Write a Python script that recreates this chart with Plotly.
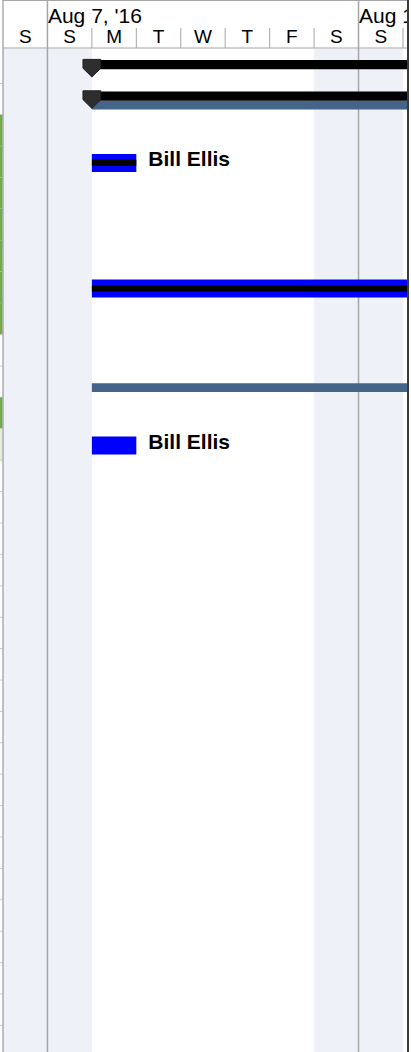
import pandas as pd
import plotly.graph_objects as go

# ---------------- data ----------------
timescale_start = "2016-08-06"
timescale_days = 9
week_starts = ["2016-08-07", "2016-08-14"]

summary_rows = [0, 1]
summary_starts = ["2016-08-08", "2016-08-08"]
summary_ends = ["2016-09-02", "2016-09-02"]

baseline_rows = [1, 10]
baseline_starts = ["2016-08-08", "2016-08-08"]
baseline_ends = ["2016-09-02", "2016-09-02"]

task_rows = [3, 7, 12]
task_starts = ["2016-08-08", "2016-08-08", "2016-08-08"]
task_ends = ["2016-08-09", "2016-09-02", "2016-08-09"]
task_complete = [1.0, 1.0, 0.0]
task_resources = ["Bill Ellis", "", "Bill Ellis"]

table_green_rows = [2, 3, 4, 5, 6, 7, 8, 11]
table_light_rows = [12]
table_row_count = 32

# ---------------- layout constants ----------------
W, H = 411, 1052
DAY_PX = 44.44
LEFT_PX = 3.0
PANE_RIGHT = 407.0
BODY_TOP = 52.0
ROW_PX = 31.4
HEADER_BOTTOM = 48.0

FONT = "Liberation Sans, Arial, sans-serif"
BLUE = "#0000FF"
SLATE = "#45648A"
SHADE = "#EEF1F7"
GRID = "#A6A6A6"


def y_of_px(px):
    return (px - BODY_TOP) / ROW_PX - 0.5


def rows_of_px(px):
    return px / ROW_PX


def fmt(ts):
    return pd.Timestamp(ts).strftime("%Y-%m-%d %H:%M:%S.%f")


t_start = pd.Timestamp(timescale_start)
t0 = t_start - pd.Timedelta(days=LEFT_PX / DAY_PX)
t1 = t0 + pd.Timedelta(days=PANE_RIGHT / DAY_PX)
days = [t_start + pd.Timedelta(days=i) for i in range(timescale_days)]

fig = go.Figure()
shapes = []

# weekend shading (body)
for d in days:
    if d.weekday() >= 5:
        shapes.append(dict(type="rect", xref="x", yref="y", x0=fmt(d), x1=fmt(d + pd.Timedelta(days=1)),
                           y0=y_of_px(HEADER_BOTTOM + 0.5), y1=y_of_px(H), fillcolor=SHADE,
                           line=dict(width=0), layer="below"))

# week lines (full height)
for w in week_starts:
    shapes.append(dict(type="line", xref="x", yref="y", x0=fmt(w), x1=fmt(w),
                       y0=y_of_px(0), y1=y_of_px(H), line=dict(color=GRID, width=1.5), layer="below"))

# day separators in lower header tier
for d in days[1:] + [days[-1] + pd.Timedelta(days=1)]:
    if d.strftime("%Y-%m-%d") in week_starts:
        continue
    shapes.append(dict(type="line", xref="x", yref="y", x0=fmt(d), x1=fmt(d),
                       y0=y_of_px(28), y1=y_of_px(HEADER_BOTTOM), line=dict(color=GRID, width=1)))

# header borders
shapes.append(dict(type="line", xref="paper", yref="y", x0=LEFT_PX / W, x1=PANE_RIGHT / W,
                   y0=y_of_px(HEADER_BOTTOM), y1=y_of_px(HEADER_BOTTOM), line=dict(color=GRID, width=1)))
shapes.append(dict(type="line", xref="paper", yref="y", x0=LEFT_PX / W, x1=PANE_RIGHT / W,
                   y0=y_of_px(0.5), y1=y_of_px(0.5), line=dict(color=GRID, width=1)))

# left table strip
for r in range(table_row_count):
    if r in table_green_rows or r in table_light_rows:
        col = "#70AD47" if r in table_green_rows else "#E2EFDA"
        shapes.append(dict(type="rect", xref="paper", yref="y", x0=0, x1=2.6 / W,
                           y0=r - 0.5, y1=r + 0.5, fillcolor=col, line=dict(width=0)))
    shapes.append(dict(type="line", xref="paper", yref="y", x0=0, x1=2.6 / W,
                       y0=r + 0.5, y1=r + 0.5, line=dict(color="#C8C8C8", width=1)))
shapes.append(dict(type="line", xref="paper", yref="y", x0=LEFT_PX / W, x1=LEFT_PX / W,
                   y0=y_of_px(0), y1=y_of_px(H), line=dict(color="#A0A0A0", width=1.3)))
# right splitter
shapes.append(dict(type="line", xref="paper", yref="y", x0=(PANE_RIGHT + 1) / W, x1=(PANE_RIGHT + 1) / W,
                   y0=y_of_px(0), y1=y_of_px(H), line=dict(color="#3A3A3A", width=2)))


def ms(a, b):
    return (pd.Timestamp(b) - pd.Timestamp(a)) / pd.Timedelta(milliseconds=1)


def hbar(rows, starts, ends, color, top_px, h_px):
    fig.add_trace(go.Bar(orientation="h", y=rows, base=[fmt(s) for s in starts],
                         x=[ms(s, e) for s, e in zip(starts, ends)],
                         offset=rows_of_px(top_px), width=rows_of_px(h_px),
                         marker=dict(color=color, line=dict(width=0)),
                         hoverinfo="skip", showlegend=False))


# baseline bars
hbar(baseline_rows, baseline_starts, baseline_ends, SLATE, 1.6, 8.7)
# summary bars
hbar(summary_rows, summary_starts, summary_ends, "#000000", -7.7, 9.3)
# task bars
hbar(task_rows, task_starts, task_ends, BLUE, -7.9, 18)
prog_rows, prog_s, prog_e = [], [], []
for r, s, e, c in zip(task_rows, task_starts, task_ends, task_complete):
    if c > 0:
        prog_rows.append(r)
        prog_s.append(s)
        prog_e.append(pd.Timestamp(s) + (pd.Timestamp(e) - pd.Timestamp(s)) * c)
hbar(prog_rows, prog_s, prog_e, "#000000", -2.1, 6)

# summary start markers
half = pd.Timedelta(days=8.9 / DAY_PX)
for r, s in zip(summary_rows, summary_starts):
    s = pd.Timestamp(s)
    xs = [s - half, s + half, s + half, s, s - half, s - half]
    ys = [r + rows_of_px(-8.3), r + rows_of_px(-8.3), r + rows_of_px(0.5), r + rows_of_px(9.3),
          r + rows_of_px(0.5), r + rows_of_px(-8.3)]
    fig.add_trace(go.Scatter(x=[fmt(v) for v in xs], y=ys, mode="lines", fill="toself",
                             fillcolor="#2E2E2E", line=dict(color="#1E1E1E", width=1),
                             hoverinfo="skip", showlegend=False))

# resource labels
lab_x, lab_y, lab_t = [], [], []
for r, e, res in zip(task_rows, task_ends, task_resources):
    if res:
        lab_x.append(fmt(pd.Timestamp(e) + pd.Timedelta(days=12 / DAY_PX)))
        lab_y.append(r + rows_of_px(-1.2))
        lab_t.append(res)
fig.add_trace(go.Scatter(x=lab_x, y=lab_y, text=lab_t, mode="text", textposition="middle right",
                         textfont=dict(family=FONT, size=21, color="#000000", weight="bold"),
                         hoverinfo="skip", showlegend=False))

# header: week labels and day letters
wk = [pd.Timestamp(w) for w in week_starts]
fig.add_trace(go.Scatter(x=[fmt(w + pd.Timedelta(days=0.5 / DAY_PX)) for w in wk],
                         y=[y_of_px(18)] * len(wk),
                         text=[f"{w.strftime('%b')} {w.day}, '{w.strftime('%y')}" for w in wk],
                         mode="text", textposition="middle right", cliponaxis=True,
                         textfont=dict(family=FONT, size=21, color="#000000"),
                         hoverinfo="skip", showlegend=False))
letters = ["M", "T", "W", "T", "F", "S", "S"]
fig.add_trace(go.Scatter(x=[fmt(d + pd.Timedelta(hours=12)) for d in days],
                         y=[y_of_px(38)] * len(days),
                         text=[letters[d.weekday()] for d in days],
                         mode="text", textposition="middle center", cliponaxis=True,
                         textfont=dict(family=FONT, size=19, color="#000000"),
                         hoverinfo="skip", showlegend=False))

fig.update_layout(
    width=W, height=H, margin=dict(l=0, r=0, t=0, b=0),
    paper_bgcolor="white", plot_bgcolor="white",
    barmode="overlay", showlegend=False, shapes=shapes,
    xaxis=dict(type="date", range=[fmt(t0), fmt(t1)], domain=[0, PANE_RIGHT / W],
               visible=False, showgrid=False, zeroline=False, fixedrange=True),
    yaxis=dict(range=[y_of_px(H), y_of_px(0)], visible=False, showgrid=False,
               zeroline=False, fixedrange=True),
)

fig.write_html("out.html", config={"displayModeBar": False},
               post_script="document.body.style.margin='0';")
